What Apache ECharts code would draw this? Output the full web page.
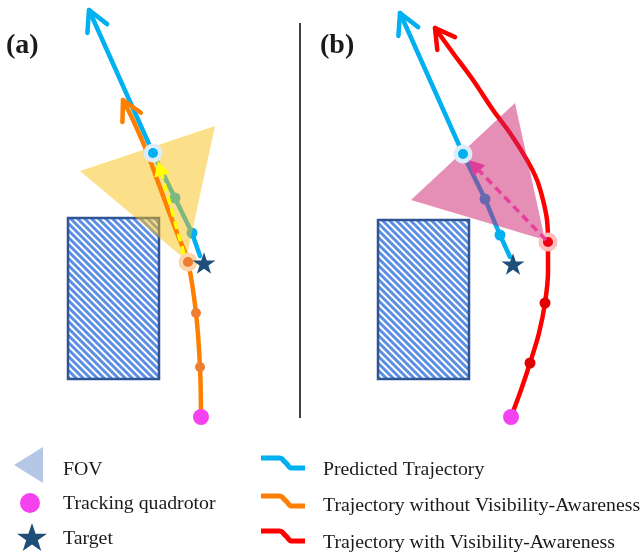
<!DOCTYPE html>
<html>
<head>
<meta charset="utf-8">
<script src="https://cdn.jsdelivr.net/npm/echarts@6/dist/echarts.min.js"></script>
<style>
  html, body { margin: 0; padding: 0; background: #ffffff; }
  #chart { width: 642px; height: 555px; }
</style>
</head>
<body>
<div id="chart"></div>
<script>
// Scene units: one unit per pixel, y axis pointing down.

// Obstacles: [x0, y0, x1, y1]
const obstacles = [
  [68, 218, 159, 379],
  [378, 220, 469, 379]
];

// Predicted target trajectories (target -> future)
const predictedA = [[200, 256], [192, 233], [175, 198], [153, 153], [89, 10]];
const predictedB = [[510, 257], [500, 235], [485, 199], [463, 154], [400, 13]];
const predictedDotsA = [[175, 198], [192, 233]];
const predictedDotsB = [[485, 199], [500, 235]];
const predictedNowA = [[153, 153]];
const predictedNowB = [[463, 154]];

// Quadrotor trajectory without visibility awareness (panel a)
const pathWithout = [[201, 417], [200, 367], [196, 313], [188, 262], [179, 238], [169, 212], [158, 182], [147, 152], [133, 120], [123, 100]];
const waypointsWithout = [[200, 367], [196, 313]];
const quadNowA = [[188, 262]];

// Quadrotor trajectory with visibility awareness (panel b)
const pathWith = [[511, 417], [521, 390], [530, 363], [539, 333], [545, 303], [548, 272], [548, 242], [547, 220], [543, 200], [537, 180], [527, 160], [510, 133], [493, 110], [473, 80], [453, 53], [435, 28]];
const waypointsWith = [[530, 363], [545, 303]];
const quadNowB = [[548, 242]];

// Quadrotor start positions
const quadStarts = [[201, 417], [511, 417]];

// Targets
const targets = [[204, 263], [513, 264]];

// Fields of view: apex at the quadrotor
const fovA = [[80, 171], [215, 126], [186, 260]];
const fovB = [[411, 200], [515, 103], [545, 240]];

// Camera heading arrows: [from, tip]
const headingA = [[184, 254], [158, 161]];
const headingB = [[546, 240], [469, 160]];

// Divider between panels
const divider = [[300, 23], [300, 418]];

// Legend glyphs
const legendFov = [[14, 465], [43, 447], [43, 483]];
const legendQuad = [[30, 503]];
const legendTarget = [[32, 537]];
const legendStroke = [[0, 0], [18, 0], [25, 5], [31, 10], [44, 10]];
const legendStrokeOrigins = [[261, 458], [261, 496], [261, 531]];
const legendStrokeColors = ['#00b0f0', '#ff7f00', '#ff0000'];

const panelLabels = ['(a)', '(b)'];
const legendLeftLabels = ['FOV', 'Tracking quadrotor', 'Target'];
const legendRightLabels = ['Predicted Trajectory', 'Trajectory without Visibility-Awareness', 'Trajectory with Visibility-Awareness'];

const STAR = 'path://M50,0 L61.8,35.1 L98.8,35.1 L68.9,56.9 L80.2,91.9 L50,70.2 L19.8,91.9 L31.1,56.9 L1.2,35.1 L38.2,35.1 Z';
const SERIF = '"Liberation Serif", "Times New Roman", serif';

// Open chevron at the end of a path, pointing along its last segment
function chevron(path, len, halfAngle) {
  const tip = path[path.length - 1];
  const prev = path[path.length - 2];
  const dx = prev[0] - tip[0], dy = prev[1] - tip[1];
  const n = Math.hypot(dx, dy);
  const ux = dx / n, uy = dy / n;
  const rot = (a) => [tip[0] + len * (ux * Math.cos(a) - uy * Math.sin(a)),
                      tip[1] + len * (ux * Math.sin(a) + uy * Math.cos(a))];
  return [rot(halfAngle), tip, rot(-halfAngle)];
}

function pathSeries(data, color, width, z, smooth, extra) {
  return Object.assign({
    type: 'line', data: data, z: z, smooth: smooth || false,
    symbol: 'none', silent: true, animation: false, clip: false,
    lineStyle: { color: color, width: width, cap: 'round', join: 'round' }
  }, extra || {});
}

function dotSeries(data, color, size, z, symbol) {
  return {
    type: 'scatter', data: data, z: z, silent: true, animation: false,
    symbol: symbol || 'circle', symbolSize: size, symbolKeepAspect: true,
    itemStyle: { color: color, opacity: 1 }
  };
}

function polygonSeries(points, fill, z) {
  return {
    type: 'custom', coordinateSystem: 'cartesian2d', z: z, silent: true, animation: false,
    data: [points.flat()],
    renderItem: function (params, api) {
      const pts = [];
      for (let i = 0; i < points.length; i++) pts.push(api.coord([api.value(2 * i), api.value(2 * i + 1)]));
      return { type: 'polygon', shape: { points: pts }, style: { fill: fill } };
    }
  };
}

// Filled arrowhead at the tip of a heading arrow
function headSeries(arrow, fill, len, half, z) {
  return {
    type: 'custom', coordinateSystem: 'cartesian2d', z: z, silent: true, animation: false,
    data: [arrow.flat()],
    renderItem: function (params, api) {
      const a = api.coord([api.value(0), api.value(1)]);
      const t = api.coord([api.value(2), api.value(3)]);
      const dx = a[0] - t[0], dy = a[1] - t[1];
      const n = Math.hypot(dx, dy), ux = dx / n, uy = dy / n;
      const bx = t[0] + ux * len, by = t[1] + uy * len;
      return {
        type: 'polygon',
        shape: { points: [t, [bx - uy * half, by + ux * half], [bx + uy * half, by - ux * half]] },
        style: { fill: fill }
      };
    }
  };
}

// Dashed shaft stopping short of the arrowhead
function shaft(arrow, gap) {
  const a = arrow[0], t = arrow[1];
  const dx = a[0] - t[0], dy = a[1] - t[1];
  const n = Math.hypot(dx, dy);
  return [a, [t[0] + dx / n * gap, t[1] + dy / n * gap]];
}

const obstacleSeries = {
  type: 'custom', coordinateSystem: 'cartesian2d', z: 1, silent: true, animation: false,
  data: obstacles,
  renderItem: function (params, api) {
    const p0 = api.coord([api.value(0), api.value(1)]);
    const p1 = api.coord([api.value(2), api.value(3)]);
    const x0 = Math.min(p0[0], p1[0]), x1 = Math.max(p0[0], p1[0]);
    const y0 = Math.min(p0[1], p1[1]), y1 = Math.max(p0[1], p1[1]);
    const children = [{ type: 'rect', shape: { x: x0, y: y0, width: x1 - x0, height: y1 - y0 }, style: { fill: '#ffffff' } }];
    const step = 7;
    for (let c = x0 - y1 + 2; c < x1 - y0; c += step) {
      const xa = Math.max(x0, y0 + c), xb = Math.min(x1, y1 + c);
      if (xb <= xa) continue;
      children.push({
        type: 'line',
        shape: { x1: xa, y1: xa - c, x2: xb, y2: xb - c },
        style: { stroke: '#5a8ee4', lineWidth: 3, lineCap: 'butt' }
      });
    }
    children.push({ type: 'rect', shape: { x: x0, y: y0, width: x1 - x0, height: y1 - y0 }, style: { fill: null, stroke: '#2f5597', lineWidth: 2.5 } });
    return { type: 'group', children: children };
  }
};

const series = [
  pathSeries(divider, '#000000', 1.5, 1, false, { lineStyle: { color: '#000', width: 1.5, cap: 'butt' } }),
  obstacleSeries,

  // trajectories
  pathSeries(predictedA, '#00b0f0', 4.5, 2),
  pathSeries(predictedB, '#00b0f0', 4.5, 2),
  pathSeries(chevron(predictedA, 23, 0.49), '#00b0f0', 4.5, 2),
  pathSeries(chevron(predictedB, 23, 0.49), '#00b0f0', 4.5, 2),
  pathSeries(pathWith, '#ff0000', 4.5, 2, 0.35),
  pathSeries(chevron(pathWith, 22, 0.52), '#ff0000', 4.5, 2),

  // waypoints
  dotSeries(predictedDotsA, '#00b0f0', 11, 3),
  dotSeries(predictedDotsB, '#00b0f0', 11, 3),
  dotSeries(waypointsWith, '#e00000', 11, 3),

  // fields of view
  polygonSeries(fovA, 'rgba(250,191,19,0.5)', 4),
  polygonSeries(fovB, 'rgba(205,32,109,0.5)', 4),

  // trajectory without visibility awareness, drawn over its view cone
  pathSeries(pathWithout, '#ff7f00', 4.5, 4.5, 0.35),
  pathSeries(chevron(pathWithout, 22, 0.49), '#ff7f00', 4.5, 4.5),
  dotSeries(waypointsWithout, '#ed7d31', 10, 4.6),

  // current states
  dotSeries(predictedNowA.concat(predictedNowB), '#dcecf8', 19, 5),
  dotSeries(predictedNowA.concat(predictedNowB), '#00b0f0', 10, 5),
  dotSeries(quadNowA, '#fbd6ab', 19, 5),
  dotSeries(quadNowA, '#ed7d31', 10, 5),
  dotSeries(quadNowB, '#ffbcbc', 19, 5),
  dotSeries(quadNowB, '#ee0010', 10, 5),

  // camera headings
  pathSeries(shaft(headingA, 12), '#ffff00', 3.5, 6, false, { lineStyle: { color: '#ffff00', width: 3.5, type: [8, 5], cap: 'butt' } }),
  headSeries(headingA, '#ffff00', 15, 8, 6),
  pathSeries(shaft(headingB, 12), '#e83e9c', 3.5, 6, false, { lineStyle: { color: '#e83e9c', width: 3.5, type: [8, 5], cap: 'butt' } }),
  headSeries(headingB, '#e23c9a', 15, 8, 6),

  // targets and starts
  dotSeries(targets, '#1f4e79', 23, 6, STAR),
  dotSeries(quadStarts, '#f542f0', 16, 6),

  // legend glyphs
  polygonSeries(legendFov, '#b4c7e7', 6),
  dotSeries(legendQuad, '#f542f0', 20, 6),
  dotSeries(legendTarget, '#1f4e79', 30, 6, STAR)
];

legendStrokeOrigins.forEach(function (o, i) {
  series.push(pathSeries(legendStroke.map(function (p) { return [p[0] + o[0], p[1] + o[1]]; }), legendStrokeColors[i], 5, 6, 0.5, {
    lineStyle: { color: legendStrokeColors[i], width: 5, cap: 'butt', join: 'round' }
  }));
});

function label(text, x, y, font) {
  return { type: 'text', x: x, y: y, silent: true,
    style: { text: text, font: font, fill: '#1a1a1a', verticalAlign: 'middle', align: 'left' } };
}

const graphics = [];
[[6, 46], [320, 46]].forEach(function (p, i) {
  graphics.push(label(panelLabels[i], p[0], p[1], 'bold 28px ' + SERIF));
});
[470, 504, 539].forEach(function (y, i) {
  graphics.push(label(legendLeftLabels[i], 63, y, '19.8px ' + SERIF));
});
[470, 506, 543].forEach(function (y, i) {
  graphics.push(label(legendRightLabels[i], 323, y, '19.8px ' + SERIF));
});

const chart = echarts.init(document.getElementById('chart'), null, { renderer: 'canvas' });
chart.setOption({
  animation: false,
  backgroundColor: '#ffffff',
  grid: { left: 0, right: 0, top: 0, bottom: 0 },
  xAxis: { type: 'value', min: 0, max: 642, show: false },
  yAxis: { type: 'value', min: 0, max: 555, inverse: true, show: false },
  series: series,
  graphic: graphics
});
</script>
</body>
</html>
